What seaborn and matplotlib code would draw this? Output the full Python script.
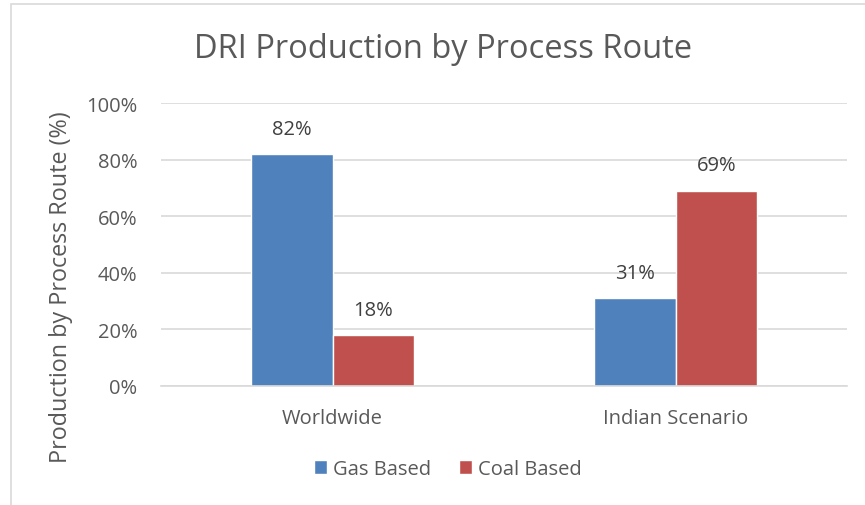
import matplotlib
matplotlib.use("Agg")
import matplotlib.pyplot as plt
import seaborn as sns
import pandas as pd
from matplotlib.patches import Rectangle
from matplotlib.ticker import PercentFormatter

categories = ["Worldwide", "Indian Scenario"]
routes = ["Gas Based", "Coal Based"]
gas_based = [0.82, 0.31]
coal_based = [0.18, 0.69]
yticks = [0, 0.2, 0.4, 0.6, 0.8, 1.0]

df = pd.DataFrame({
    "Category": categories * 2,
    "Route": [routes[0]] * 2 + [routes[1]] * 2,
    "Value": gas_based + coal_based,
})

sns.set_theme(style="white")
FONT = ["Open Sans", "DejaVu Sans"]
plt.rcParams["font.family"] = FONT
TXT = "#595959"

fig = plt.figure(figsize=(8.65, 5.06), dpi=100)
ax = fig.add_axes([161/865, (506-387)/506, (847-161)/865, (387-104)/506])

sns.barplot(data=df, x="Category", y="Value", hue="Route", hue_order=routes,
            palette=["#4F81BD", "#C0504D"], width=0.478, gap=0, saturation=1,
            ax=ax, legend=True)

ax.set_ylim(0, 1.0)
ax.set_yticks(yticks)
ax.yaxis.set_major_formatter(PercentFormatter(1.0, decimals=0))
ax.grid(axis="y", color="#D9D9D9", linewidth=1.2)
ax.set_axisbelow(True)
for s in ["top", "right", "left"]:
    ax.spines[s].set_visible(False)
ax.spines["bottom"].set_color("#D9D9D9")
ax.spines["bottom"].set_linewidth(1.2)
ax.tick_params(axis="y", length=0, labelsize=14.5, colors=TXT, pad=17)
ax.tick_params(axis="x", length=0, labelsize=14.5, colors=TXT, pad=16)
ax.set_xlabel("")
ax.set_ylabel("Production by Process Route (%)", fontsize=16.8, color=TXT)
ax.yaxis.set_label_coords(-0.128, 0.352)

for cont in ax.containers:
    ax.bar_label(cont, labels=[f"{v*100:.0f}%" for v in cont.datavalues],
                 padding=11, fontsize=14.5, color="#404040")

ax.legend(loc="center", bbox_to_anchor=(0.418, (387-470)/283), ncol=2,
          frameon=False, fontsize=14.5, handlelength=0.65, handleheight=0.65,
          handletextpad=0.3, columnspacing=1.4, labelcolor=TXT)

fig.suptitle("DRI Production by Process Route", x=443/865, y=1-50/506, va="center",
             fontsize=23.5, color=TXT)

fig.patches.append(Rectangle((11/865, -0.1), 2, 1 - 5/506 + 0.1, transform=fig.transFigure,
                             fill=False, edgecolor="#D9D9D9", linewidth=1.2))

fig.savefig("out.png", dpi=100)
